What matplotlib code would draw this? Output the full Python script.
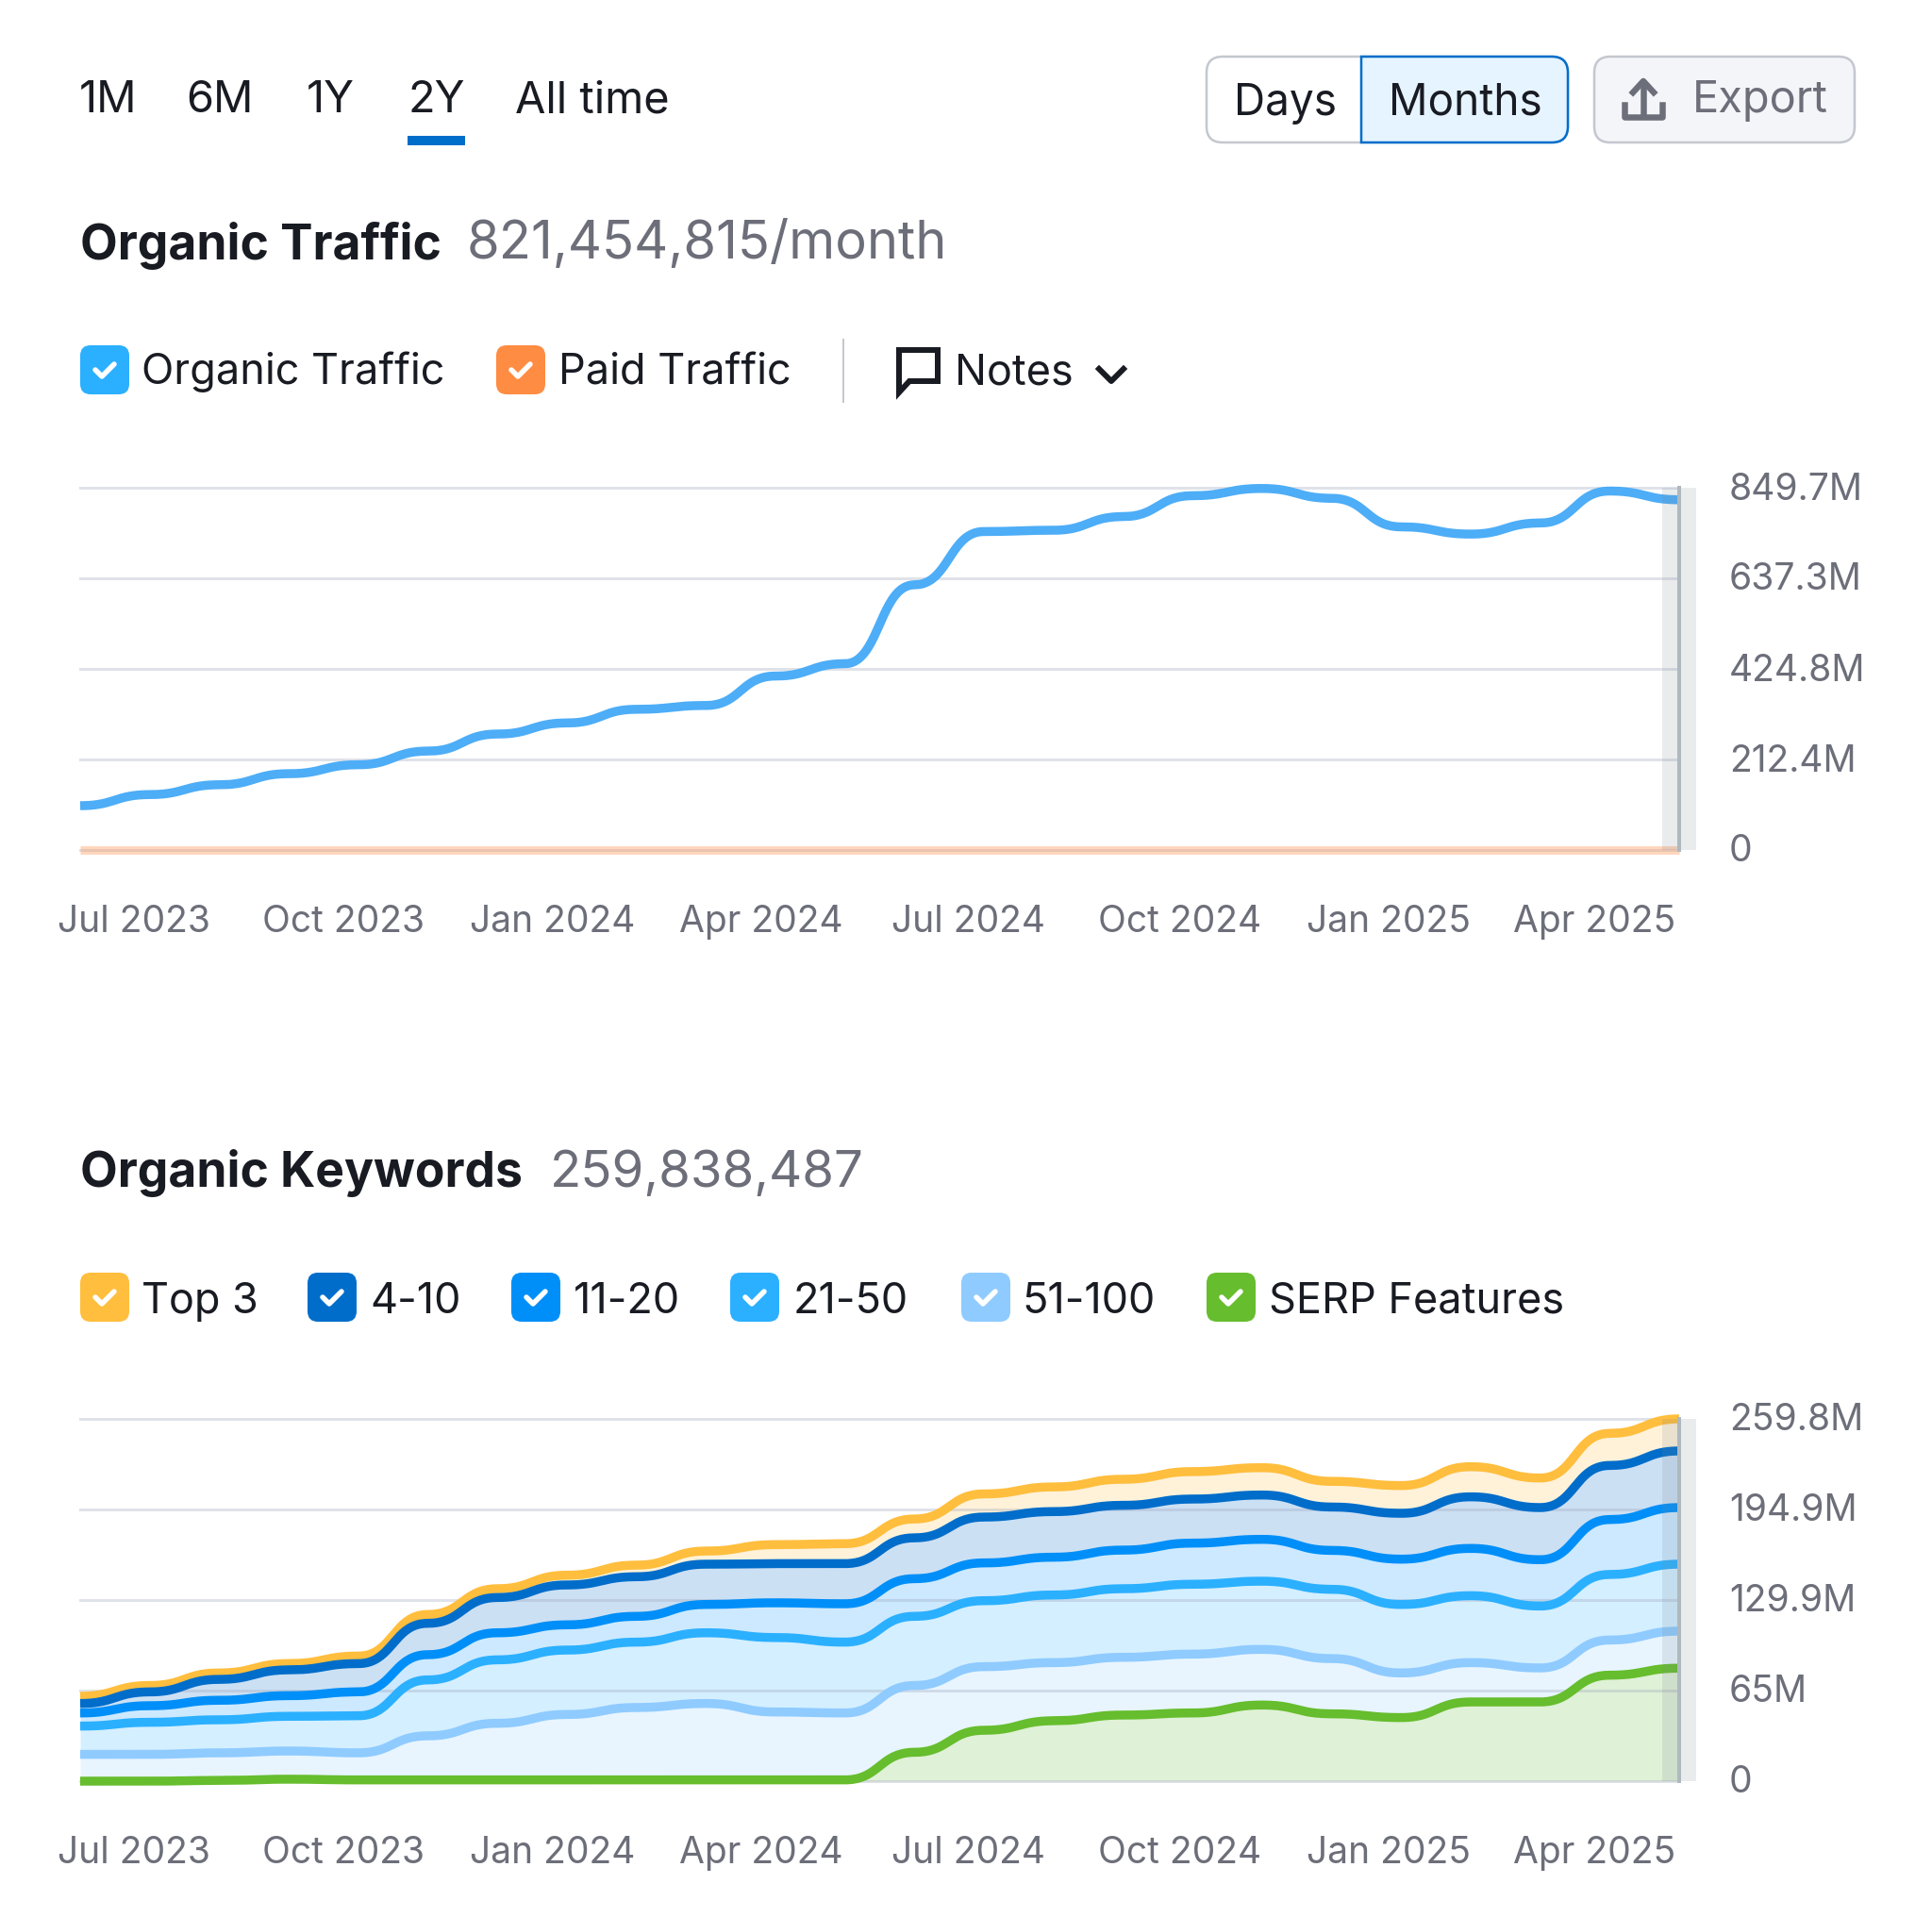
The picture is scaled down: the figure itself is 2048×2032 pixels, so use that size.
import numpy as np
import matplotlib
matplotlib.use('Agg')
import matplotlib.pyplot as plt
from matplotlib.patches import FancyBboxPatch, PathPatch
from matplotlib.path import Path
from matplotlib.transforms import ScaledTranslation

plt.rcParams['font.family'] = ['Inter', 'DejaVu Sans']

W, H = 2048, 2033
PX = 72 / 100  # one pixel in points at dpi 100

DARK = '#191b23'
GREY = '#6c6e79'
EDGE = '#c4c7cf'

# month index, the first point is Jun 2023 and the last May 2025
months = np.arange(24)
tick_pos = [0.78, 3.79, 6.80, 9.80, 12.78, 15.81, 18.82, 21.78]
tick_labels = ['Jul 2023', 'Oct 2023', 'Jan 2024', 'Apr 2024',
               'Jul 2024', 'Oct 2024', 'Jan 2025', 'Apr 2025']

# millions
organic = [104, 130, 153, 179, 200, 232, 272, 298, 330, 339, 408, 437,
           622, 747, 750, 782, 831, 848, 825, 758, 741, 767, 842, 821.5]
paid = [0.4, 0.4, 0.4, 0.4, 0.4, 0.4, 0.4, 0.4, 0.4, 0.4, 0.4, 0.4,
        0.4, 0.4, 0.4, 0.4, 0.4, 0.4, 0.4, 0.4, 0.4, 0.4, 0.4, 0.4]
traffic_ticks = [0, 212.4, 424.8, 637.3, 849.7]
traffic_labels = ['0', '212.4M', '424.8M', '637.3M', '849.7M']

top3 = [60.9, 68.6, 77.6, 84.3, 89.7, 119.5, 138, 147.7, 154.9, 165, 169.6, 170.3,
        188, 206, 211, 216.5, 222, 224.8, 215, 212, 225.5, 217.4, 249.4, 259.8]
pos4_10 = [55.7, 64, 73, 79.8, 84.3, 113.2, 131.7, 140.7, 146.6, 155.6, 156, 156,
           174.5, 189.4, 193.3, 197.8, 202.3, 205.2, 196.6, 192.1, 203.9, 196.2, 226.4, 236.8]
pos11_20 = [48.9, 54.1, 58, 61.3, 64, 90.7, 106.4, 112.1, 118.2, 126.7, 127.9, 127.2,
            145.2, 156.5, 160.6, 165.7, 170.7, 173.4, 165.5, 159.2, 166.9, 158.8, 187.6, 196.2]
pos21_50 = [39.5, 42.2, 44, 46.5, 46.9, 72.6, 87, 94, 99.7, 106.4, 103, 99.7,
            118.2, 129.4, 133.5, 138, 141.2, 143.4, 137.6, 126.7, 133, 125.6, 148.2, 155.6]
pos51_100 = [19.2, 19.2, 20.3, 21.6, 20.3, 32.5, 41.5, 47.8, 52.8, 55.7, 49.6, 48.9,
             68.6, 82.1, 85, 88.8, 91.1, 94.5, 87.9, 77.6, 85, 81.2, 101.2, 107.6]
serp = [0, 0, 0.5, 1.4, 0.9, 0.9, 0.9, 0.9, 0.9, 0.9, 0.9, 0.9,
        20.7, 36.5, 43.3, 47.4, 48.9, 54.6, 48.3, 45.6, 56.8, 56.8, 76, 81]
keyword_ticks = [0, 65, 129.9, 194.9, 259.8]
keyword_labels = ['0', '65M', '129.9M', '194.9M', '259.8M']

kw_series = [top3, pos4_10, pos11_20, pos21_50, pos51_100, serp]
kw_names = ['Top 3', '4-10', '11-20', '21-50', '51-100', 'SERP Features']
kw_colors = ['#ffbe3d', '#006dca', '#008ff8', '#2bb0ff', '#8fcbff', '#66bd2d']
kw_fills = ['#fff2d9', '#cce0f4', '#cce9ff', '#d4efff', '#e8f5ff', '#dff1d6']


def smooth(x, y, c=0.5, per_step=40):
    # flat at every month and steep in between, like a bump curve on the web chart
    x = np.asarray(x, float)
    y = np.asarray(y, float)
    t = np.linspace(0, 1, per_step, endpoint=False)
    sx = 3 * t * (1 - t)**2 * c + 3 * t**2 * (1 - t) * (1 - c) + t**3
    sy = 3 * t**2 * (1 - t) + t**3
    xs = [x[i] + sx * (x[i + 1] - x[i]) for i in range(len(x) - 1)]
    ys = [y[i] + sy * (y[i + 1] - y[i]) for i in range(len(y) - 1)]
    return np.append(np.concatenate(xs), x[-1]), np.append(np.concatenate(ys), y[-1])


def make_chart(top, bottom, ymax, ticks, labels):
    left, right = 85, 1780
    ax = fig.add_axes([left / W, 1 - bottom / H, (right - left) / W, (bottom - top) / H])
    ax.patch.set_alpha(0)
    ax.set_xlim(months[0], months[-1])
    ax.set_ylim(0, ymax)
    for s in ax.spines.values():
        s.set_visible(False)
    ax.yaxis.tick_right()
    ax.set_yticks(ticks, labels)
    ax.set_xticks(tick_pos, tick_labels)
    ax.tick_params(axis='y', length=0, pad=53 * PX, labelsize=39 * PX, labelcolor=GREY)
    ax.tick_params(axis='x', length=0, pad=57 * PX, labelsize=39 * PX, labelcolor=GREY)
    nudge = ScaledTranslation(0, 3 / 100, fig.dpi_scale_trans)
    for lab in ax.get_yticklabels():
        lab.set_transform(lab.get_transform() + nudge)
    for t in ticks:
        ax.axhline(t, color='#9aa0b8', alpha=0.3, lw=3 * PX, zorder=3, clip_on=False)
    return ax


def hover_band(ax):
    half = 18 / 73.7
    ax.axvspan(months[-1] - half, months[-1] + half, color='#7a8794', alpha=0.16, lw=0,
               zorder=6, clip_on=False)
    ax.axvline(months[-1], color='#aeb9bf', lw=4 * PX, zorder=7, clip_on=False)


def rbox(x0, y0, x1, y1, r, fc, ec='none', lw=0):
    ui.add_patch(FancyBboxPatch((x0, y0), x1 - x0, y1 - y0,
                                boxstyle=f'round,pad=0,rounding_size={r}',
                                fc=fc, ec=ec, lw=lw * PX))


def checkbox(x, y, color):
    rbox(x, y, x + 52, y + 52, 11, color)
    ui.plot([x + 16, x + 23, x + 36], [y + 26, y + 33, y + 20], color='white', lw=5.5 * PX,
            solid_capstyle='round', solid_joinstyle='round')


def label(x, y, s, color=DARK, size=45, **kw):
    ui.text(x, y, s, color=color, fontsize=size * PX, va='center', ha=kw.pop('ha', 'left'), **kw)


fig = plt.figure(figsize=(W / 100, H / 100), dpi=100, facecolor='white')

ui = fig.add_axes([0, 0, 1, 1])
ui.set_xlim(0, W)
ui.set_ylim(H, 0)
ui.axis('off')

# range tabs
for x, s in zip([84, 197, 325, 433, 546], ['1M', '6M', '1Y', '2Y', 'All time']):
    label(x, 107, s, size=47)
ui.fill_between([432, 493], 145, 155, color='#006dca', lw=0)

# days / months / export
rbox(1279, 61, 1662, 152, 17, 'white', EDGE, 2.5)
mx0, mx1, my0, my1, r = 1443, 1662, 61, 152, 17
month_verts = [(mx0, my0), (mx1 - r, my0), (mx1, my0), (mx1, my0 + r), (mx1, my1 - r),
               (mx1, my1), (mx1 - r, my1), (mx0, my1), (mx0, my0)]
month_codes = [Path.MOVETO, Path.LINETO, Path.CURVE3, Path.CURVE3, Path.LINETO,
               Path.CURVE3, Path.CURVE3, Path.LINETO, Path.CLOSEPOLY]
ui.add_patch(PathPatch(Path(month_verts, month_codes), fc='#e6f4ff', ec='#006dca', lw=2.5 * PX))
label(1362, 110, 'Days', ha='center', size=46)
label(1553, 110, 'Months', ha='center', size=46)
rbox(1690, 61, 1966, 152, 17, '#f4f5f9', EDGE, 2.5)
label(1794, 107, 'Export', color=GREY, size=47)
ui.plot([1742, 1742], [90, 120], color=GREY, lw=6.5 * PX)
ui.plot([1731, 1742, 1753], [99, 87, 99], color=GREY, lw=6.5 * PX)
ui.plot([1722, 1722, 1762, 1762], [112, 125, 125, 112], color=GREY, lw=6.5 * PX)

# traffic header
label(85, 260, 'Organic Traffic', size=51.6, fontweight='bold')
label(495, 259, '821,454,815/month', color=GREY, size=56)
checkbox(85, 367, '#2bb0ff')
label(150, 394, 'Organic Traffic')
checkbox(526, 367, '#ff8c43')
label(592, 395, 'Paid Traffic')
ui.plot([894, 894], [361, 427], color=EDGE, lw=2 * PX)
ui.plot([994, 994, 964, 953, 953, 994], [372, 405, 405, 417, 372, 372], color=DARK, lw=6 * PX,
        solid_joinstyle='miter')
label(1012, 395, 'Notes')
ui.plot([1165, 1178, 1191], [392, 405, 392], color=DARK, lw=6 * PX)

# keywords header
label(85, 1244, 'Organic Keywords', size=51.6, fontweight='bold')
label(583, 1244, '259,838,487', color=GREY, size=54.6)
box_x = [85, 326, 542, 774, 1019, 1279]
text_x = [150, 392, 608, 841, 1083, 1345]
for bx, tx, name, c in zip(box_x, text_x, kw_names, kw_colors):
    checkbox(bx, 1350, c)
    label(tx, 1380, name)

# traffic chart
ax1 = make_chart(518, 902, traffic_ticks[-1], traffic_ticks, traffic_labels)
ax1.plot(*smooth(months, paid), color='#ff8c43', alpha=0.35, lw=9 * PX, zorder=4,
         solid_capstyle='butt', clip_on=False)
ax1.plot(*smooth(months, organic), color='#4dadf7', lw=9.5 * PX, zorder=5,
         solid_capstyle='butt', clip_on=False)
hover_band(ax1)

# keywords chart
ax2 = make_chart(1505, 1889, keyword_ticks[-1], keyword_ticks, keyword_labels)
curves = [smooth(months, s)[1] for s in kw_series]
xs = smooth(months, kw_series[0])[0]
lower = curves[1:] + [np.zeros_like(xs)]
for up, low, fc in zip(curves, lower, kw_fills):
    ax2.fill_between(xs, low, up, color=fc, lw=0, zorder=1)
for y, c in zip(curves, kw_colors):
    ax2.plot(xs, y, color=c, lw=9.5 * PX, zorder=5, solid_capstyle='butt', clip_on=False)
hover_band(ax2)

fig.savefig('out.png', dpi=100)
